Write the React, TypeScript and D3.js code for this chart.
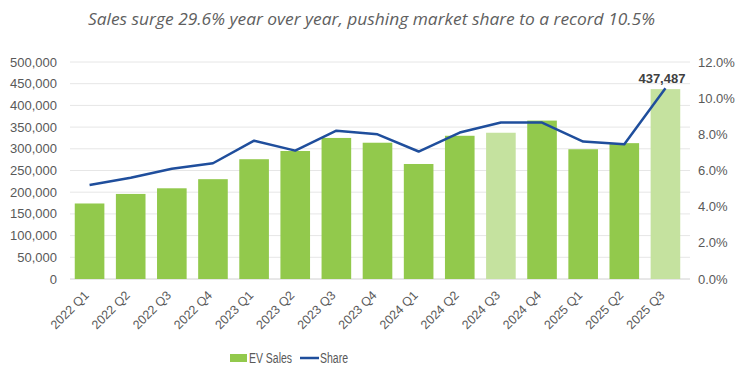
import React from "react";
import * as d3 from "d3";

const categories = ["2022 Q1","2022 Q2","2022 Q3","2022 Q4","2023 Q1","2023 Q2","2023 Q3","2023 Q4","2024 Q1","2024 Q2","2024 Q3","2024 Q4","2025 Q1","2025 Q2","2025 Q3"];
const evSales = [174000,196000,209000,230000,276000,295000,325000,314000,265000,330000,337000,365000,299000,313000,437487];
const share = [5.2,5.6,6.1,6.4,7.65,7.1,8.2,8.0,7.05,8.1,8.65,8.65,7.6,7.45,10.55];
const highlighted = ["2024 Q3","2025 Q3"];
const leftTicks = [0,50000,100000,150000,200000,250000,300000,350000,400000,450000,500000];
const rightTicks = [0,2,4,6,8,10,12];
const title = "Sales surge 29.6% year over year, pushing market share to a record 10.5%";

export default function App() {
  const W = 746, H = 391;
  const x = d3.scaleBand<string>().domain(categories).range([69, 686]).paddingInner(0.28).paddingOuter(0.14);
  const yL = d3.scaleLinear().domain([0, 500000]).range([279, 62]);
  const yR = d3.scaleLinear().domain([0, 12]).range([279, 62]);
  const fmt = d3.format(",");
  const line = d3.line<number>().x((_, i) => (x(categories[i]) as number) + x.bandwidth() / 2).y(d => yR(d));
  const last = categories.length - 1;
  const lastCx = (x(categories[last]) as number) + x.bandwidth() / 2;
  return (
    <svg width={W} height={H} style={{ position: "absolute", left: 0, top: 0, background: "#fff" }}>
      <text x={88} y={24.5} fontFamily="'Open Sans', Lato, sans-serif" fontStyle="italic" fontSize={15.5} fill="#5f5f5f" textLength={567} lengthAdjust="spacingAndGlyphs">{title}</text>
      {leftTicks.map(t => (
        <g key={t}>
          <line x1={70} x2={690} y1={yL(t)} y2={yL(t)} stroke={t === 0 ? "#d0d0d0" : "#e6e6e6"} strokeWidth={1} />
          <text x={57} y={yL(t) + 4.5} textAnchor="end" fontFamily="'Liberation Sans', Arial, sans-serif" fontSize={13} fill="#595959">{fmt(t)}</text>
        </g>
      ))}
      {rightTicks.map(t => (
        <text key={t} x={698} y={yR(t) + 4.5} textAnchor="start" fontFamily="'Liberation Sans', Arial, sans-serif" fontSize={13} fill="#595959">{t.toFixed(1) + "%"}</text>
      ))}
      {categories.map((c, i) => (
        <rect key={c} x={x(c)} y={yL(evSales[i])} width={x.bandwidth()} height={279 - yL(evSales[i])}
          fill={highlighted.includes(c) ? "#c5e29f" : "#92c94c"} />
      ))}
      <path d={line(share) as string} fill="none" stroke="#1f4e9c" strokeWidth={2.5} strokeLinejoin="round" />
      <text x={lastCx - 3.5} y={83} textAnchor="middle" fontFamily="'Liberation Sans', Arial, sans-serif" fontWeight="bold" fontSize={13} fill="#404040">{fmt(evSales[last])}</text>
      {categories.map(c => {
        const cx = (x(c) as number) + x.bandwidth() / 2;
        return (
          <text key={c} transform={`translate(${cx},${296}) rotate(-45)`} textAnchor="end" fontFamily="'Liberation Sans', Arial, sans-serif" fontSize={12.5} fill="#595959">{c}</text>
        );
      })}
      <rect x={230} y={354} width={17} height={8} fill="#92c94c" />
      <text x={249} y={362.5} fontFamily="'Liberation Sans', Arial, sans-serif" fontSize={14} fill="#595959" textLength={43} lengthAdjust="spacingAndGlyphs">EV Sales</text>
      <line x1={300} x2={319} y1={358} y2={358} stroke="#1f4e9c" strokeWidth={2.5} />
      <text x={320} y={362.5} fontFamily="'Liberation Sans', Arial, sans-serif" fontSize={14} fill="#595959" textLength={28} lengthAdjust="spacingAndGlyphs">Share</text>
    </svg>
  );
}
